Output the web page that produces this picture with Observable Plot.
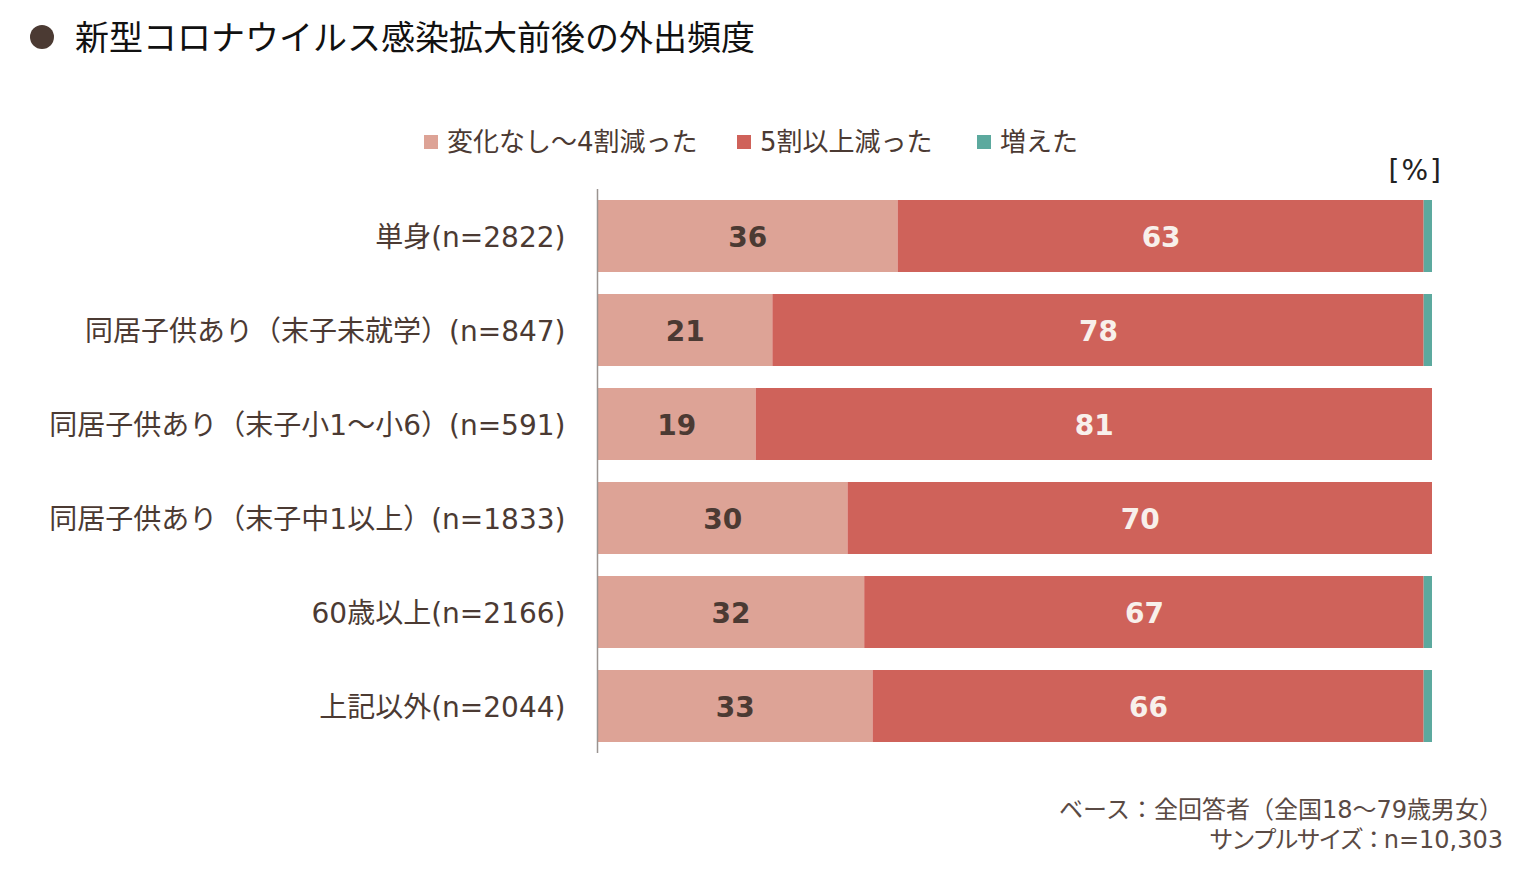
<!DOCTYPE html>
<html lang="ja">
<head>
<meta charset="utf-8">
<script src="https://cdn.jsdelivr.net/npm/d3@7"></script>
<script src="https://cdn.jsdelivr.net/npm/@observablehq/plot@0.6"></script>
<style>
  html, body { margin: 0; padding: 0; background: #fff; }
  body {
    position: relative; width: 1521px; height: 870px; overflow: hidden;
    font-family: "DejaVu Sans", "Noto Sans CJK JP", sans-serif; color: #4b3a33;
  }
  #dot { position: absolute; left: 30px; top: 25px; width: 24px; height: 24px; border-radius: 50%; background: #4b3a33; }
  #title {
    position: absolute; left: 75px; top: 17px; font-family: "Noto Sans CJK JP", sans-serif;
    font-size: 34px; line-height: 38px; color: #111; white-space: nowrap;
  }
  .legend-item { position: absolute; top: 128px; height: 28px; display: flex; align-items: center; white-space: nowrap; }
  .legend-item .sw { width: 14px; height: 14px; margin-right: 9px; }
  .legend-item .lb { font-size: 26px; line-height: 28px; }
  #unit { position: absolute; right: 78px; top: 156px; font-size: 28px; line-height: 30px; color: #222; letter-spacing: 2px; }
  #chart { position: absolute; left: 0; top: 170px; }
  #note {
    position: absolute; right: 18px; top: 795px; text-align: right; font-size: 24px;
    line-height: 30px; color: #5a4a44; white-space: nowrap;
  }
  #note .kana { letter-spacing: -2px; }
</style>
</head>
<body>
<div id="dot"></div>
<div id="title">新型コロナウイルス感染拡大前後の外出頻度</div>
<div id="legend"></div>
<div id="unit">[%]</div>
<div id="chart"></div>
<div id="note">ベース：全回答者（全国18～79歳男女）<br><span class="kana">サンプルサイズ：</span>n=10,303</div>
<script>
// Respondent groups (top to bottom)
const groups = [
  "単身(n=2822)",
  "同居子供あり（末子未就学）(n=847)",
  "同居子供あり（末子小1～小6）(n=591)",
  "同居子供あり（末子中1以上）(n=1833)",
  "60歳以上(n=2166)",
  "上記以外(n=2044)"
];

// Answer categories, in stacking order
const series = ["変化なし～4割減った", "5割以上減った", "増えた"];
const seriesColors = ["#dda396", "#cf625a", "#5ca99e"];

// Shares per group, percent
const noChangeTo40Down = [36, 21, 19, 30, 32, 33];
const down50OrMore     = [63, 78, 81, 70, 67, 66];
const increased        = [1, 1, 0, 0, 1, 1];

const valuesBySeries = [noChangeTo40Down, down50OrMore, increased];
const rows = groups.flatMap((g, i) =>
  series.map((s, j) => ({ group: g, series: s, value: valuesBySeries[j][i] }))
);
// Only the first two categories carry value labels
const labelRows = rows.filter(d => d.series !== series[2]);

// HTML legend
const legend = document.getElementById("legend");
const legendLeft = [424, 737, 977];
series.forEach((s, i) => {
  const item = document.createElement("div");
  item.className = "legend-item";
  item.style.left = legendLeft[i] + "px";
  item.innerHTML = `<span class="sw" style="background:${seriesColors[i]}"></span><span class="lb">${s}</span>`;
  legend.appendChild(item);
});

const chart = Plot.plot({
  width: 1521,
  height: 600,
  marginLeft: 597,
  marginRight: 89,
  marginTop: 19,
  marginBottom: 17,
  style: {
    fontFamily: '"DejaVu Sans", "Noto Sans CJK JP", sans-serif',
    fontSize: "28px",
    color: "#4b3a33",
    background: "transparent"
  },
  x: { domain: [0, 100], axis: null },
  y: {
    domain: groups,
    paddingInner: 0.234,
    paddingOuter: 0.117,
    label: null
  },
  color: { domain: series, range: seriesColors },
  marks: [
    Plot.barX(rows, Plot.stackX({ x: "value", y: "group", fill: "series", order: series })),
    Plot.text(labelRows, Plot.stackX({
      x: "value", y: "group", z: "series", order: series,
      text: d => d.series === series[0] ? String(d.value) : "",
      fill: "#4b3a33", fontWeight: "bold", fontSize: 28, dy: 2
    })),
    Plot.text(labelRows, Plot.stackX({
      x: "value", y: "group", z: "series", order: series,
      text: d => d.series === series[1] ? String(d.value) : "",
      fill: "#f8f0eb", fontWeight: "bold", fontSize: 28, dy: 2
    })),
    Plot.axisY({ tickSize: 0, tickPadding: 32, dy: 2, label: null }),
    Plot.ruleX([0], { stroke: "#9a9491", strokeWidth: 1.5 })
  ]
});
document.getElementById("chart").appendChild(chart);
</script>
</body>
</html>
